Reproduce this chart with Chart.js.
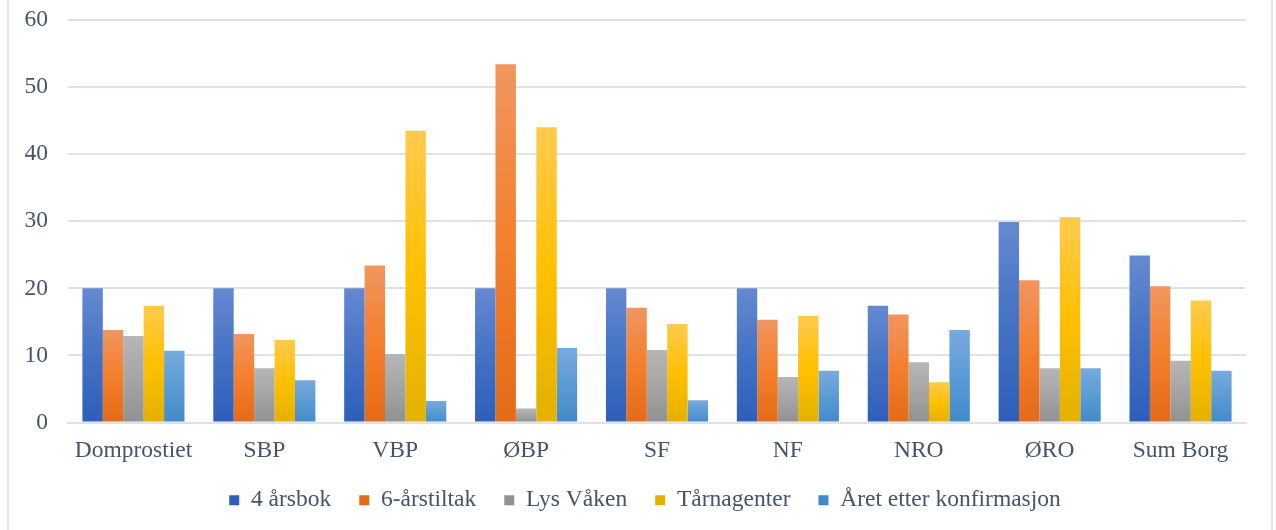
<!DOCTYPE html>
<html>
<head>
<meta charset="utf-8">
<script src="https://cdn.jsdelivr.net/npm/chart.js@4.4.1/dist/chart.umd.min.js"></script>
<style>
  html, body { margin: 0; padding: 0; background: #fff; }
  #wrap { position: relative; width: 1276px; height: 530px; }
  #frame { position: absolute; left: 7px; top: -2px; width: 1266px; height: 540px;
           border-left: 2px solid #e3e7ec; border-right: 2px solid #e3e7ec; box-sizing: border-box; }
  canvas { position: absolute; left: 0; top: 0; }
</style>
</head>
<body>
<div id="wrap">
  <div id="frame"></div>
  <canvas id="barchart" width="1276" height="530"></canvas>
</div>
<script>
var categories = ["Domprostiet", "SBP", "VBP", "ØBP", "SF", "NF", "NRO", "ØRO", "Sum Borg"];

var aarsbok4    = [20, 20, 20, 20, 20, 20, 17.4, 29.9, 24.9];
var aarstiltak6 = [13.8, 13.2, 23.4, 53.4, 17.1, 15.3, 16.1, 21.2, 20.3];
var lysVaaken   = [12.9, 8.1, 10.2, 2.1, 10.8, 6.8, 9.0, 8.1, 9.2];
var taarnagent  = [17.4, 12.3, 43.5, 44.0, 14.7, 15.9, 6.0, 30.6, 18.2];
var aaretEtter  = [10.7, 6.3, 3.2, 11.1, 3.3, 7.7, 13.8, 8.1, 7.7];

var yTicks = [0, 10, 20, 30, 40, 50, 60];

var textColor = '#44546a';
var serif = "'Liberation Serif', 'Times New Roman', serif";

// Excel-like vertical gradient per bar (light top, darker bottom)
function grad(top, mid, bottom) {
  return function(c) {
    var chart = c.chart;
    if (!chart.chartArea || c.type !== 'data') return mid;
    var ys = chart.scales.y;
    var y1 = ys.getPixelForValue(c.raw);
    var y0 = ys.getPixelForValue(0);
    if (!isFinite(y1) || !isFinite(y0) || y0 === y1) return mid;
    var g = chart.ctx.createLinearGradient(0, y1, 0, y0);
    g.addColorStop(0, top);
    g.addColorStop(0.5, mid);
    g.addColorStop(1, bottom);
    return g;
  };
}

// legend in the reference sits a bit right of the plot centre and a little higher
var legendShift = {
  id: 'legendShift',
  afterLayout: function(chart) {
    chart.legend.left += 22;
    chart.legend.right += 22;
    chart.legend.top -= 8;
    chart.legend.bottom -= 8;
  }
};

var ctx = document.getElementById("barchart");
var myChart = new Chart(ctx, {
  type: 'bar',
  data: {
    labels: categories,
    datasets: [
      { label: "4 årsbok", data: aarsbok4, backgroundColor: grad('#6589d1', '#4472c4', '#2e5ebb') },
      { label: "6-årstiltak", data: aarstiltak6, backgroundColor: grad('#f09660', '#f47f2c', '#e46a17') },
      { label: "Lys Våken", data: lysVaaken, backgroundColor: grad('#b6b6b6', '#a5a5a5', '#919191') },
      { label: "Tårnagenter", data: taarnagent, backgroundColor: grad('#ffca4e', '#ffc000', '#e3b100') },
      { label: "Året etter konfirmasjon", data: aaretEtter, backgroundColor: grad('#77aade', '#5b9bd5', '#428aca') }
    ]
  },
  plugins: [legendShift],
  options: {
    responsive: false,
    animation: false,
    layout: { padding: { top: 20, right: 30, bottom: 0, left: 0 } },
    datasets: {
      bar: { barPercentage: 1, categoryPercentage: 0.78, borderWidth: 0 }
    },
    scales: {
      x: {
        afterFit: function(scale) { scale.height = 46; },
        grid: { display: false, drawTicks: false },
        border: { display: true, color: '#dde2ea', width: 2 },
        ticks: { color: textColor, font: { family: serif, size: 23.5 }, padding: 14, maxRotation: 0 }
      },
      y: {
        min: 0,
        max: 60,
        afterFit: function(scale) { scale.width = 68; scale.paddingTop = 0; scale.paddingBottom = 0; },
        afterBuildTicks: function(scale) { scale.ticks = yTicks.map(function(v) { return { value: v }; }); },
        grid: { color: '#dde2ea', lineWidth: 2, drawTicks: false },
        border: { display: false },
        ticks: { color: textColor, font: { family: serif, size: 23.5 }, padding: 20 }
      }
    },
    plugins: {
      legend: {
        position: 'bottom',
        labels: {
          color: textColor,
          font: { family: serif, size: 23.5 },
          boxWidth: 10,
          boxHeight: 10,
          padding: 28
        }
      },
      tooltip: { enabled: false }
    }
  }
});
</script>
</body>
</html>
